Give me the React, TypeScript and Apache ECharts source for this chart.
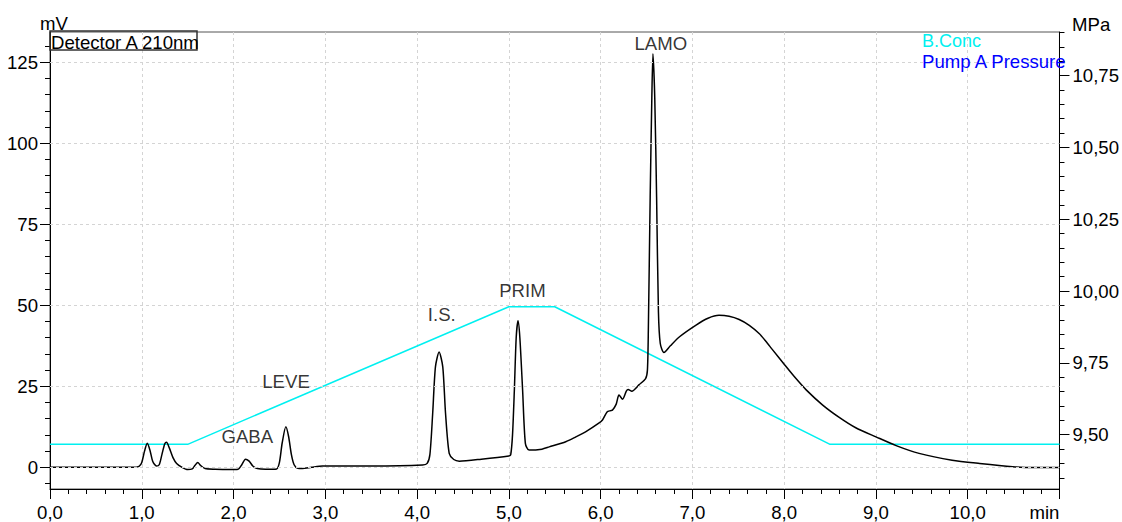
import React, { useEffect, useRef } from "react";
import * as echarts from "echarts";

// Detector A 210nm chromatogram (time in min, signal in mV)
const timeMin = [
  0.0, 0.5, 0.9, 0.97, 1.0, 1.03, 1.06, 1.09, 1.12, 1.16, 1.19, 1.22, 1.25, 1.27, 1.3, 1.34, 1.38, 1.44, 1.5,
  1.55, 1.58, 1.61, 1.64, 1.69, 1.8, 1.95, 2.05, 2.09, 2.13, 2.17, 2.21, 2.26, 2.35, 2.47, 2.5, 2.53, 2.57,
  2.6, 2.63, 2.66, 2.7, 2.75, 2.85, 2.97, 3.5, 4.06, 4.11, 4.14, 4.17, 4.2, 4.24, 4.28, 4.31, 4.35, 4.4,
  4.46, 4.7, 5.0, 5.02, 5.04, 5.06, 5.08, 5.1, 5.12, 5.15, 5.18, 5.22, 5.36, 5.44, 5.62, 5.73, 5.84, 5.98,
  6.02, 6.07, 6.11, 6.13, 6.17, 6.2, 6.24, 6.28, 6.3, 6.34, 6.42, 6.49, 6.51, 6.52, 6.54, 6.558, 6.57,
  6.59, 6.61, 6.63, 6.65, 6.69, 6.76, 6.86, 7.04, 7.17, 7.29, 7.4, 7.51, 7.62, 7.73, 7.8, 7.87, 8.0, 8.11,
  8.24, 8.42, 8.6, 8.78, 9.0, 9.22, 9.47, 9.83, 10.13, 10.49, 10.71, 11.0,
];
const detectorMV = [
  0.0, 0.0, 0.0, 0.3, 1.5, 5.0, 7.4, 5.2, 1.8, 0.4, 0.8, 4.0, 7.2, 7.7, 6.0, 3.0, 1.2, 0.0, -0.7,
  -0.5, 0.6, 1.5, 0.6, -0.4, -0.6, -0.7, -0.6, 0.8, 2.5, 1.9, 0.4, -0.4, -0.6, -0.5, 1.5, 7.5, 12.5,
  9.5, 4.0, 0.8, -0.3, -0.4, 0.0, 0.4, 0.4, 0.7, 1.2, 4.0, 16.6, 31.0, 35.6, 31.0, 16.7, 4.3, 2.4,
  1.9, 2.5, 3.5, 3.8, 10.0, 23.8, 40.0, 45.2, 40.0, 23.8, 7.4, 5.3, 5.6, 6.3, 7.9, 9.4, 11.0, 13.6,
  14.6, 17.1, 17.5, 17.7, 19.5, 22.3, 21.0, 23.5, 24.0, 23.5, 25.5, 27.4, 30.0, 42.3, 83.4, 114.0, 127.6,
  114.0, 83.4, 48.0, 38.2, 35.4, 37.5, 40.3, 43.9, 46.0, 46.9, 46.6, 45.6, 43.8, 41.2, 38.9, 36.4, 31.8, 28.0,
  23.9, 19.2, 15.4, 12.2, 9.4, 6.7, 4.3, 2.2, 1.2, 0.2, -0.1, -0.1,
];

// B.Conc gradient program (time in min, %)
const bConcTime = [0, 1.5, 5.0, 5.5, 8.5, 11];
const bConcPct = [10, 10, 50, 50, 10, 10];

// Pump A Pressure (off-scale / not drawn in the reference)
const pumpPressure: number[][] = [];

// Peak annotations
const peakNames = ["GABA", "LEVE", "I.S.", "PRIM", "LAMO"];
const peakLabelTime = [2.15, 2.572, 4.269, 5.148, 6.656];
const peakLabelMV = [9.35, 26.6, 47.2, 54.5, 130.7];

// Axis ticks
const mvTicks = [0, 25, 50, 75, 100, 125];
const mpaTicks = [9.5, 9.75, 10.0, 10.25, 10.5, 10.75];

const FONT = "'Liberation Sans', Arial, sans-serif";
const FS = 18.6;

export default function App() {
  const ref = useRef<HTMLDivElement>(null);

  useEffect(() => {
    if (!ref.current) return;
    const chart = echarts.init(ref.current, null, { renderer: "svg" });

    const mvMinor: number[] = [];
    for (let v = -5; v <= 135; v += 5) mvMinor.push(v);
    const mpaMinor: number[] = [];
    for (let i = 0; i <= 32; i++) mpaMinor.push(Math.round((9.35 + i * 0.05) * 100) / 100);

    const chromData = timeMin.map((t, i) => [t, detectorMV[i]]);
    const concData = bConcTime.map((t, i) => [t, bConcPct[i]]);
    const annData = peakNames.map((n, i) => ({ name: n, value: [peakLabelTime[i], peakLabelMV[i]] }));

    const mvMin = -6.7,
      mvMax = 134.35;

    chart.setOption({
      animation: false,
      textStyle: { fontFamily: FONT },
      grid: {
        left: 50,
        right: 62,
        top: 32,
        bottom: 33,
        show: true,
        borderColor: "#555",
        borderWidth: 1,
        containLabel: false,
      },
      xAxis: {
        type: "value",
        min: 0,
        max: 11,
        interval: 1,
        axisLine: { show: true, onZero: false, lineStyle: { color: "#000", width: 1 } },
        axisTick: { show: true, length: 10, lineStyle: { color: "#000" } },
        minorTick: { show: true, splitNumber: 5, length: 5, lineStyle: { color: "#000" } },
        axisLabel: {
          color: "#000",
          fontSize: FS,
          fontFamily: FONT,
          margin: 14,
          alignMaxLabel: "right",
          formatter: (v: number) => (v >= 11 ? "min" : v.toFixed(1).replace(".", ",")),
        },
        splitLine: { show: true, lineStyle: { color: "#d4d4d4", type: [3, 3], width: 1 } },
      },
      yAxis: [
        {
          type: "value",
          position: "left",
          min: mvMin,
          max: mvMax,
          axisLine: { show: true, onZero: false, lineStyle: { color: "#000", width: 1 } },
          axisTick: { show: true, length: 10, customValues: mvTicks, lineStyle: { color: "#000" } },
          axisLabel: {
            color: "#000",
            fontSize: FS,
            fontFamily: FONT,
            margin: 12,
            customValues: mvTicks,
            formatter: (v: number) => String(v),
          },
          splitLine: { show: false },
        },
        {
          type: "value",
          position: "left",
          min: mvMin,
          max: mvMax,
          axisLine: { show: false },
          axisTick: { show: true, length: 5, customValues: mvMinor, lineStyle: { color: "#000" } },
          axisLabel: { show: false },
          splitLine: { show: false },
        },
        {
          type: "value",
          position: "right",
          min: 9.311,
          max: 10.902,
          axisLine: { show: true, onZero: false, lineStyle: { color: "#000", width: 1 } },
          axisTick: { show: true, length: 10, customValues: mpaTicks, lineStyle: { color: "#000" } },
          axisLabel: {
            color: "#000",
            fontSize: FS,
            fontFamily: FONT,
            margin: 13,
            customValues: mpaTicks,
            formatter: (v: number) => v.toFixed(2).replace(".", ","),
          },
          splitLine: { show: false },
        },
        {
          type: "value",
          position: "right",
          min: 9.311,
          max: 10.902,
          axisLine: { show: false },
          axisTick: { show: true, length: 5, customValues: mpaMinor, lineStyle: { color: "#000" } },
          axisLabel: { show: false },
          splitLine: { show: false },
        },
        {
          type: "value",
          show: false,
          min: -2.99,
          max: 129.86,
        },
      ],
      series: [
        {
          name: "gridlines",
          type: "line",
          yAxisIndex: 0,
          data: [],
          z: 1,
          silent: true,
          markLine: {
            silent: true,
            symbol: ["none", "none"],
            label: { show: false },
            lineStyle: { color: "#d4d4d4", type: [3, 3], width: 1 },
            data: mvTicks.map((v) => ({ yAxis: v })),
          },
        },
        {
          name: "B.Conc",
          type: "line",
          yAxisIndex: 4,
          data: concData,
          showSymbol: false,
          lineStyle: { color: "#00f0f0", width: 1.5 },
          itemStyle: { color: "#00f0f0" },
          z: 3,
        },
        {
          name: "Pump A Pressure",
          type: "line",
          yAxisIndex: 2,
          data: pumpPressure,
          showSymbol: false,
          lineStyle: { color: "#0000ff", width: 1.5 },
        },
        {
          name: "Detector A 210nm",
          type: "line",
          yAxisIndex: 0,
          data: chromData,
          showSymbol: false,
          smooth: 0.25,
          lineStyle: { color: "#000", width: 1.5 },
          itemStyle: { color: "#000" },
          z: 4,
        },
        {
          name: "peaks",
          type: "scatter",
          yAxisIndex: 0,
          data: annData,
          symbolSize: 1,
          itemStyle: { color: "rgba(0,0,0,0)" },
          label: {
            show: true,
            position: "inside",
            formatter: "{b}",
            color: "#000",
            fontSize: FS,
            fontFamily: FONT,
          },
          z: 5,
        },
      ],
      graphic: [
        {
          type: "text",
          left: 40,
          top: 14,
          style: { text: "mV", fill: "#000", font: `${FS}px ${FONT}`, lineHeight: 16 },
        },
        {
          type: "text",
          left: 1072,
          top: 15,
          style: { text: "MPa", fill: "#000", font: `${FS}px ${FONT}`, lineHeight: 16 },
        },
        {
          type: "rect",
          shape: { x: 50, y: 31, width: 147, height: 19 },
          style: { fill: "rgba(255,255,255,0)", stroke: "#333", lineWidth: 1.5 },
          z: 10,
        },
        {
          type: "text",
          left: 51,
          top: 33,
          style: { text: "Detector A 210nm", fill: "#000", font: `${FS}px ${FONT}`, lineHeight: 16 },
          z: 11,
        },
        {
          type: "text",
          left: 922,
          top: 32,
          style: { text: "B.Conc", fill: "#00f0f0", font: `18px ${FONT}`, lineHeight: 15 },
          z: 11,
        },
        {
          type: "text",
          left: 922,
          top: 52,
          style: { text: "Pump A Pressure", fill: "#0000ff", font: `${FS}px ${FONT}`, lineHeight: 15 },
          z: 11,
        },
      ],
    });

    return () => chart.dispose();
  }, []);

  return (
    <div
      ref={ref}
      style={{ position: "absolute", left: 0, top: 0, width: 1122, height: 522, background: "#fff" }}
    />
  );
}
